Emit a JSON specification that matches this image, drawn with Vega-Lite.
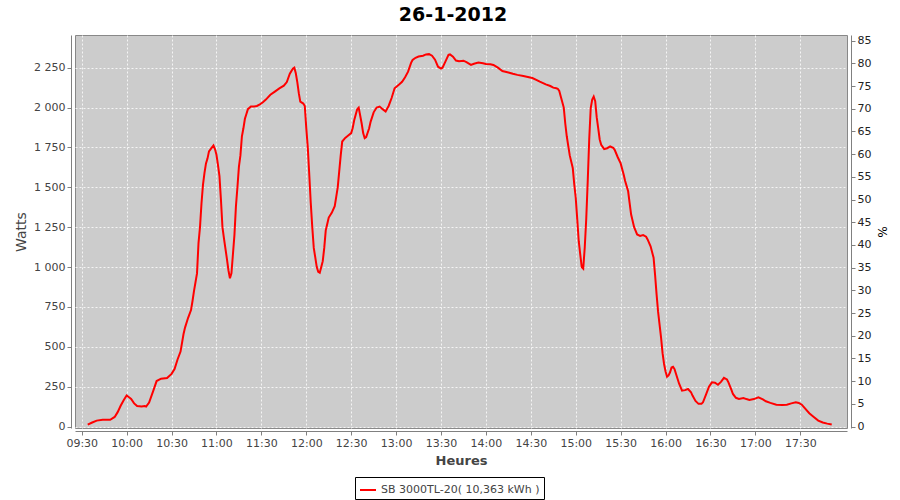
{
  "$schema": "https://vega.github.io/schema/vega-lite/v6.json",
  "width": 772,
  "height": 393,
  "autosize": "none",
  "padding": {"left": 75, "top": 35, "right": 53, "bottom": 72},
  "background": "white",
  "title": {"text": "26-1-2012", "font": "DejaVu Sans", "fontSize": 19, "fontWeight": "bold", "color": "#000000", "anchor": "middle", "dx": -8, "baseline": "alphabetic", "offset": -5},
  "config": {
    "font": "DejaVu Sans",
    "view": {"fill": "#cccccc", "stroke": "#888888", "strokeWidth": 1},
    "axis": {"domainColor": "#808080", "tickColor": "#808080", "labelFont": "DejaVu Sans", "labelFontSize": 11, "labelColor": "#444444", "titleFont": "DejaVu Sans", "titleColor": "#444444", "tickSize": 4, "labelPadding": 2}
  },
  "data": {"values": [
    {"t":"09:34","w":12},{"t":"09:37","w":25},{"t":"09:40","w":37},{"t":"09:44","w":42},{"t":"09:49","w":42},{"t":"09:52","w":60},{"t":"09:54","w":90},{"t":"09:56","w":130},{"t":"09:58","w":165},{"t":"10:00","w":194},{"t":"10:02","w":180},{"t":"10:03","w":173},{"t":"10:05","w":145},{"t":"10:07","w":128},{"t":"10:10","w":125},{"t":"10:12","w":128},{"t":"10:13","w":125},{"t":"10:15","w":150},{"t":"10:18","w":230},{"t":"10:20","w":285},{"t":"10:23","w":300},{"t":"10:27","w":304},{"t":"10:30","w":330},{"t":"10:32","w":360},{"t":"10:34","w":420},{"t":"10:36","w":470},{"t":"10:38","w":580},{"t":"10:39","w":620},{"t":"10:41","w":680},{"t":"10:43","w":730},{"t":"10:44","w":787},{"t":"10:45","w":850},{"t":"10:47","w":960},{"t":"10:48","w":1150},{"t":"10:49","w":1250},{"t":"10:50","w":1400},{"t":"10:51","w":1517},{"t":"10:52","w":1590},{"t":"10:53","w":1650},{"t":"10:54","w":1680},{"t":"10:55","w":1725},{"t":"10:57","w":1750},{"t":"10:58","w":1762},{"t":"10:59","w":1740},{"t":"11:00","w":1704},{"t":"11:01","w":1640},{"t":"11:02","w":1570},{"t":"11:03","w":1420},{"t":"11:04","w":1250},{"t":"11:05","w":1180},{"t":"11:07","w":1050},{"t":"11:08","w":980},{"t":"11:09","w":930},{"t":"11:10","w":960},{"t":"11:11","w":1080},{"t":"11:12","w":1200},{"t":"11:13","w":1380},{"t":"11:14","w":1500},{"t":"11:15","w":1630},{"t":"11:16","w":1700},{"t":"11:17","w":1820},{"t":"11:18","w":1870},{"t":"11:19","w":1930},{"t":"11:20","w":1960},{"t":"11:21","w":1990},{"t":"11:23","w":2006},{"t":"11:25","w":2006},{"t":"11:27","w":2010},{"t":"11:29","w":2020},{"t":"11:31","w":2033},{"t":"11:33","w":2050},{"t":"11:36","w":2080},{"t":"11:39","w":2100},{"t":"11:42","w":2120},{"t":"11:45","w":2137},{"t":"11:47","w":2160},{"t":"11:49","w":2212},{"t":"11:51","w":2244},{"t":"11:52","w":2250},{"t":"11:53","w":2215},{"t":"11:54","w":2160},{"t":"11:55","w":2090},{"t":"11:56","w":2037},{"t":"11:58","w":2025},{"t":"11:59","w":2010},{"t":"12:00","w":1871},{"t":"12:01","w":1750},{"t":"12:02","w":1579},{"t":"12:03","w":1400},{"t":"12:04","w":1250},{"t":"12:05","w":1120},{"t":"12:06","w":1060},{"t":"12:07","w":1000},{"t":"12:08","w":970},{"t":"12:09","w":964},{"t":"12:10","w":1000},{"t":"12:11","w":1037},{"t":"12:12","w":1120},{"t":"12:13","w":1230},{"t":"12:14","w":1270},{"t":"12:15","w":1310},{"t":"12:17","w":1340},{"t":"12:19","w":1381},{"t":"12:20","w":1440},{"t":"12:21","w":1500},{"t":"12:22","w":1600},{"t":"12:23","w":1700},{"t":"12:24","w":1787},{"t":"12:26","w":1810},{"t":"12:28","w":1825},{"t":"12:30","w":1840},{"t":"12:31","w":1871},{"t":"12:32","w":1920},{"t":"12:34","w":1990},{"t":"12:35","w":2000},{"t":"12:36","w":1950},{"t":"12:37","w":1900},{"t":"12:38","w":1840},{"t":"12:39","w":1808},{"t":"12:40","w":1815},{"t":"12:42","w":1870},{"t":"12:43","w":1912},{"t":"12:45","w":1970},{"t":"12:47","w":2000},{"t":"12:49","w":2006},{"t":"12:51","w":1990},{"t":"12:53","w":1975},{"t":"12:55","w":2010},{"t":"12:57","w":2060},{"t":"12:59","w":2121},{"t":"13:02","w":2145},{"t":"13:04","w":2162},{"t":"13:06","w":2190},{"t":"13:08","w":2225},{"t":"13:10","w":2280},{"t":"13:11","w":2298},{"t":"13:13","w":2312},{"t":"13:15","w":2320},{"t":"13:18","w":2325},{"t":"13:20","w":2333},{"t":"13:22","w":2335},{"t":"13:24","w":2325},{"t":"13:26","w":2300},{"t":"13:28","w":2256},{"t":"13:30","w":2245},{"t":"13:31","w":2250},{"t":"13:33","w":2290},{"t":"13:35","w":2330},{"t":"13:36","w":2333},{"t":"13:38","w":2319},{"t":"13:40","w":2295},{"t":"13:42","w":2290},{"t":"13:45","w":2294},{"t":"13:47","w":2285},{"t":"13:50","w":2268},{"t":"13:52","w":2275},{"t":"13:55","w":2282},{"t":"13:58","w":2278},{"t":"14:00","w":2273},{"t":"14:03","w":2272},{"t":"14:05","w":2267},{"t":"14:08","w":2250},{"t":"14:11","w":2229},{"t":"14:15","w":2220},{"t":"14:18","w":2212},{"t":"14:21","w":2205},{"t":"14:25","w":2198},{"t":"14:28","w":2192},{"t":"14:31","w":2185},{"t":"14:34","w":2172},{"t":"14:36","w":2162},{"t":"14:40","w":2145},{"t":"14:43","w":2135},{"t":"14:45","w":2125},{"t":"14:47","w":2121},{"t":"14:48","w":2118},{"t":"14:49","w":2104},{"t":"14:50","w":2070},{"t":"14:52","w":2000},{"t":"14:53","w":1900},{"t":"14:54","w":1820},{"t":"14:55","w":1760},{"t":"14:56","w":1700},{"t":"14:58","w":1621},{"t":"14:59","w":1520},{"t":"15:00","w":1433},{"t":"15:01","w":1300},{"t":"15:02","w":1162},{"t":"15:03","w":1080},{"t":"15:04","w":1000},{"t":"15:05","w":990},{"t":"15:06","w":1121},{"t":"15:07","w":1300},{"t":"15:08","w":1537},{"t":"15:09","w":1800},{"t":"15:10","w":1996},{"t":"15:11","w":2050},{"t":"15:12","w":2069},{"t":"15:13","w":2040},{"t":"15:14","w":1940},{"t":"15:15","w":1871},{"t":"15:16","w":1800},{"t":"15:17","w":1767},{"t":"15:19","w":1740},{"t":"15:21","w":1745},{"t":"15:23","w":1756},{"t":"15:25","w":1748},{"t":"15:26","w":1735},{"t":"15:28","w":1690},{"t":"15:30","w":1650},{"t":"15:32","w":1580},{"t":"15:33","w":1540},{"t":"15:35","w":1475},{"t":"15:36","w":1400},{"t":"15:37","w":1329},{"t":"15:39","w":1250},{"t":"15:41","w":1204},{"t":"15:43","w":1195},{"t":"15:45","w":1200},{"t":"15:47","w":1190},{"t":"15:48","w":1173},{"t":"15:50","w":1130},{"t":"15:52","w":1058},{"t":"15:53","w":950},{"t":"15:54","w":829},{"t":"15:55","w":720},{"t":"15:57","w":558},{"t":"15:58","w":460},{"t":"15:59","w":392},{"t":"16:00","w":345},{"t":"16:01","w":312},{"t":"16:02","w":320},{"t":"16:03","w":340},{"t":"16:04","w":370},{"t":"16:05","w":375},{"t":"16:06","w":360},{"t":"16:07","w":329},{"t":"16:09","w":270},{"t":"16:11","w":225},{"t":"16:13","w":228},{"t":"16:15","w":235},{"t":"16:17","w":215},{"t":"16:18","w":194},{"t":"16:20","w":160},{"t":"16:22","w":142},{"t":"16:24","w":142},{"t":"16:25","w":152},{"t":"16:27","w":200},{"t":"16:29","w":250},{"t":"16:31","w":277},{"t":"16:33","w":275},{"t":"16:35","w":262},{"t":"16:37","w":280},{"t":"16:39","w":305},{"t":"16:41","w":295},{"t":"16:42","w":277},{"t":"16:44","w":230},{"t":"16:45","w":204},{"t":"16:47","w":180},{"t":"16:49","w":173},{"t":"16:52","w":179},{"t":"16:54","w":172},{"t":"16:56","w":167},{"t":"16:59","w":172},{"t":"17:02","w":183},{"t":"17:05","w":170},{"t":"17:07","w":158},{"t":"17:10","w":148},{"t":"17:14","w":137},{"t":"17:18","w":135},{"t":"17:21","w":137},{"t":"17:24","w":145},{"t":"17:27","w":152},{"t":"17:29","w":148},{"t":"17:31","w":137},{"t":"17:33","w":115},{"t":"17:36","w":83},{"t":"17:39","w":60},{"t":"17:42","w":37},{"t":"17:45","w":25},{"t":"17:48","w":18},{"t":"17:51","w":12}
  ]},
  "transform": [{"calculate": "toDate('2012-01-26T' + datum.t + ':00')", "as": "time"}],
  "layer": [
    {
      "mark": {"type": "line", "strokeWidth": 2, "clip": true},
      "encoding": {
        "x": {"field": "time", "type": "temporal",
          "scale": {"domain": [{"year": 2012, "month": 1, "date": 26, "hours": 9, "minutes": 25, "seconds": 30}, {"year": 2012, "month": 1, "date": 26, "hours": 18, "minutes": 1, "seconds": 12}]},
          "axis": {"title": "Heures", "titleFontSize": 13, "titleFontWeight": "bold", "titlePadding": 6, "offset": 3, "format": "%H:%M", "gridColor": "#ffffff", "gridDash": [2, 2], "gridWidth": 0.8,
            "values": [
              {"year": 2012, "month": 1, "date": 26, "hours": 9, "minutes": 30},
              {"year": 2012, "month": 1, "date": 26, "hours": 10, "minutes": 0},
              {"year": 2012, "month": 1, "date": 26, "hours": 10, "minutes": 30},
              {"year": 2012, "month": 1, "date": 26, "hours": 11, "minutes": 0},
              {"year": 2012, "month": 1, "date": 26, "hours": 11, "minutes": 30},
              {"year": 2012, "month": 1, "date": 26, "hours": 12, "minutes": 0},
              {"year": 2012, "month": 1, "date": 26, "hours": 12, "minutes": 30},
              {"year": 2012, "month": 1, "date": 26, "hours": 13, "minutes": 0},
              {"year": 2012, "month": 1, "date": 26, "hours": 13, "minutes": 30},
              {"year": 2012, "month": 1, "date": 26, "hours": 14, "minutes": 0},
              {"year": 2012, "month": 1, "date": 26, "hours": 14, "minutes": 30},
              {"year": 2012, "month": 1, "date": 26, "hours": 15, "minutes": 0},
              {"year": 2012, "month": 1, "date": 26, "hours": 15, "minutes": 30},
              {"year": 2012, "month": 1, "date": 26, "hours": 16, "minutes": 0},
              {"year": 2012, "month": 1, "date": 26, "hours": 16, "minutes": 30},
              {"year": 2012, "month": 1, "date": 26, "hours": 17, "minutes": 0},
              {"year": 2012, "month": 1, "date": 26, "hours": 17, "minutes": 30}
            ]}},
        "y": {"field": "w", "type": "quantitative",
          "scale": {"domain": [-9.4, 2455], "nice": false, "zero": false},
          "axis": {"title": "Watts", "titleFontSize": 14, "titleFontWeight": "normal", "titlePadding": 5, "offset": 4, "values": [0, 250, 500, 750, 1000, 1250, 1500, 1750, 2000, 2250],
            "labelExpr": "replace(format(datum.value, ','), ',', ' ')", "gridColor": "#ffffff", "gridDash": [2, 2], "gridWidth": 0.8}},
        "color": {"datum": "SB 3000TL-20( 10,363 kWh )", "type": "nominal",
          "scale": {"range": ["#ff0000"]},
          "legend": {"title": null, "orient": "none", "legendX": 280, "legendY": 442, "strokeColor": "#000000", "fillColor": "#ffffff", "padding": 4, "symbolType": "stroke", "symbolStrokeWidth": 2, "symbolSize": 256, "labelFontSize": 11, "labelColor": "#444444", "labelFont": "DejaVu Sans", "symbolOffset": 0}}
      }
    },
    {
      "data": {"values": [{"p": 0}]},
      "mark": {"type": "rule", "opacity": 0},
      "encoding": {
        "y": {"field": "p", "type": "quantitative",
          "scale": {"domain": [-0.33, 86.25], "nice": false, "zero": false},
          "axis": {"orient": "right", "title": "%", "titleFontSize": 12, "titleFontWeight": "normal", "titleColor": "#000000", "labelColor": "#222222", "offset": 4, "grid": false, "values": [0, 5, 10, 15, 20, 25, 30, 35, 40, 45, 50, 55, 60, 65, 70, 75, 80, 85]}}
      }
    }
  ],
  "resolve": {"scale": {"y": "independent"}}
}
